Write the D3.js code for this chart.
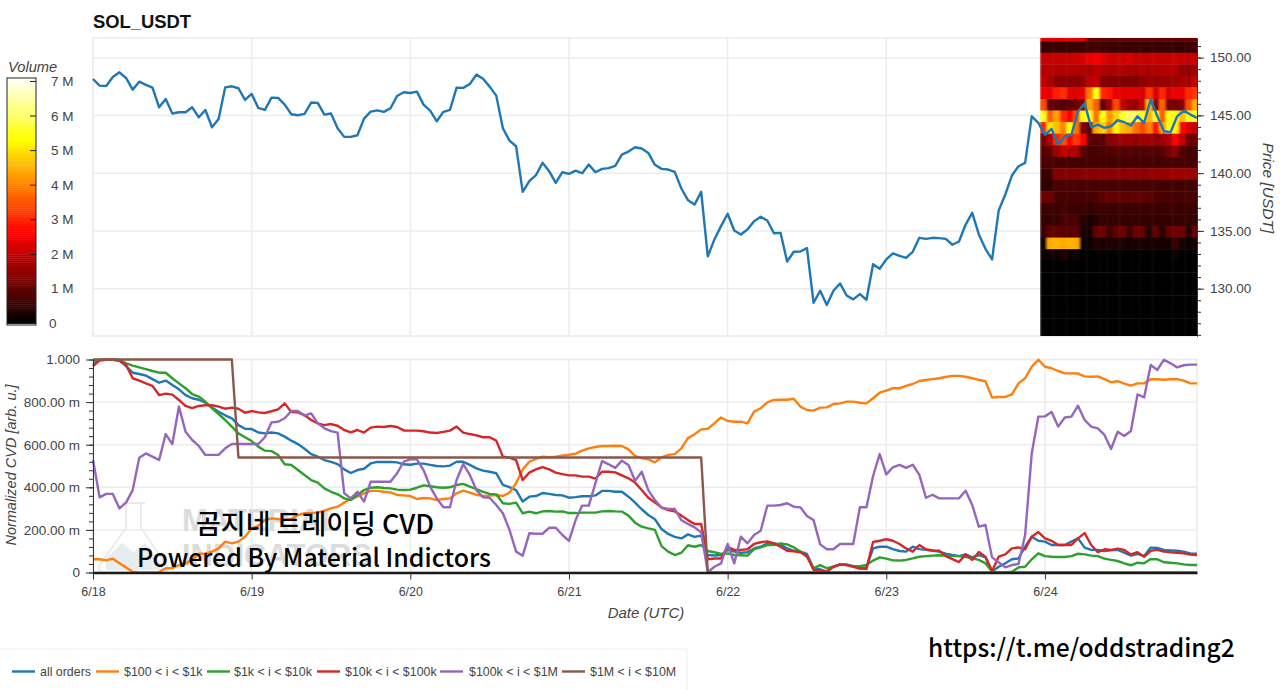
<!DOCTYPE html>
<html><head><meta charset="utf-8">
<script src="https://cdn.jsdelivr.net/npm/d3@7"></script>
<style>
html,body{margin:0;padding:0;background:#fff;overflow:hidden}
svg{display:block}
text{font-family:"Liberation Sans",Arial,sans-serif}
</style></head><body>
<svg id="c" width="1280" height="690"></svg>
<script>
const title="SOL_USDT";
const seriesNames=["all orders","$100 < i < $1k","$1k < i < $10k","$10k < i < $100k","$100k < i < $1M","$1M < i < $10M"];
const seriesColors=["#1f77b4","#ff7f0e","#2ca02c","#d62728","#9467bd","#8c564b"];
const dateTicks=["6/18","6/19","6/20","6/21","6/22","6/23","6/24"];
const priceTicks=[130,135,140,145,150];
const cvdTicks=[0,.2,.4,.6,.8,1];
const volumeTicks=[0,1,2,3,4,5,6,7];

const price=[148.15,147.58,147.55,148.33,148.73,148.24,147.23,147.92,147.64,147.40,145.70,146.42,145.16,145.27,145.27,145.70,144.84,145.47,143.97,144.69,147.43,147.52,147.35,146.34,146.86,145.65,145.47,146.54,146.51,145.93,145.10,145.01,145.13,146.11,146.08,145.07,145.16,143.89,143.14,143.14,143.28,144.72,145.33,145.44,145.30,145.62,146.68,147.00,146.94,147.06,145.93,145.41,144.49,145.30,145.47,147.40,147.38,147.72,148.53,148.18,147.49,146.71,143.89,142.82,142.33,138.38,139.30,139.82,140.89,
140.17,139.16,140.08,139.94,140.22,139.99,140.74,140.08,140.37,140.43,140.63,141.61,141.87,142.24,142.13,141.75,140.72,140.37,140.31,140.11,138.67,137.66,137.28,138.38,132.79,134.26,135.41,136.48,135.03,134.69,135.12,135.84,136.22,135.90,134.80,134.83,132.35,133.19,133.22,133.51,128.78,129.82,128.58,129.82,130.45,129.41,129.07,129.53,129.04,132.12,131.72,132.53,133.05,132.84,132.67,133.19,134.40,134.31,134.40,134.37,134.31,133.80,134.08,135.55,136.56,134.69,133.45,132.53,136.76,138.15,139.79,140.60,140.89,
144.92,144.35,143.31,143.83,142.47,143.19,143.31,145.36,146.02,143.97,144.20,143.92,144.06,144.58,144.41,144.12,144.92,144.35,146.37,144.92,143.63,143.54,144.92,145.41,145.07,144.78];

const cvdAll=[.974,.998,.999,.999,.995,.969,.938,.932,.924,.908,.891,.901,.880,.860,.833,.818,.811,.797,.775,.755,.738,.724,.692,.675,.674,.657,.653,.657,.653,.638,.619,.603,.581,.556,.544,.528,.519,.509,.484,.467,.481,.487,.512,.519,.519,.519,.517,
.508,.506,.511,.511,.505,.500,.498,.502,.520,.520,.505,.489,.478,.473,.466,.411,.401,.387,.333,.356,.359,.373,.369,.364,.362,.351,.354,.358,.358,.362,.383,.383,.379,.379,.356,.328,.297,.270,.250,.204,.181,.167,.160,.179,.167,.173,.082,.080,
.082,.106,.098,.093,.095,.113,.121,.137,.137,.132,.113,.102,.098,.087,.020,.015,.004,.027,.038,.035,.030,.020,.024,.113,.121,.121,.110,.101,.098,.121,.110,.106,.102,.098,.088,.082,.077,.085,.071,.082,.071,.004,.027,.043,.062,.066,.121,.168,.149,.145,.129,.129,.129,.145,.160,.117,.106,.106,.101,.104,.106,.093,.079,.087,.077,.117,.115,.106,.104,.102,.098,.090,.088];
const cvd100=[.062,.062,.057,.065,.043,.024,.004,0,0,0,.002,.020,.020,.035,.043,.059,.087,.090,.098,.113,.145,.137,.145,.168,.207,.220,.246,.254,.251,.246,.251,.270,.278,.278,.282,.290,.301,.309,.328,.345,.356,.372,.383,.383,.379,.376,.364,
.362,.359,.345,.350,.348,.340,.345,.348,.372,.384,.375,.365,.359,.361,.364,.359,.375,.419,.484,.520,.533,.544,.541,.544,.549,.553,.558,.572,.583,.589,.594,.594,.595,.594,.578,.547,.536,.531,.517,.541,.552,.556,.583,.631,.649,.672,.675,.700,
.728,.711,.708,.708,.700,.755,.771,.799,.810,.811,.811,.816,.779,.763,.760,.774,.775,.791,.794,.802,.802,.797,.794,.818,.844,.854,.865,.865,.876,.885,.899,.904,.908,.912,.918,.923,.923,.919,.912,.904,.898,.821,.824,.824,.836,.888,.912,.966,.999,.966,.959,.946,.935,.935,.934,.921,.919,.921,.908,.894,.898,.887,.877,.888,.888,.907,.907,.905,.907,.908,.901,.888,.888];
const cvd1k=[.990,.998,.999,.999,.998,.982,.971,.963,.955,.946,.938,.938,.912,.888,.865,.838,.826,.802,.771,.744,.716,.685,.653,.635,.617,.591,.572,.570,.552,.508,.505,.481,.458,.434,.422,.395,.379,.367,.348,.340,.364,.387,.398,.400,.397,.395,.389,
.387,.389,.398,.409,.405,.400,.398,.400,.411,.416,.403,.391,.379,.369,.367,.325,.322,.328,.278,.286,.278,.287,.289,.286,.287,.279,.279,.281,.281,.281,.287,.289,.287,.286,.267,.234,.215,.207,.200,.124,.098,.082,.093,.128,.121,.129,.101,.095,
.087,.090,.082,.081,.079,.110,.118,.129,.129,.137,.132,.118,.098,.074,.020,.035,.020,.027,.038,.038,.030,.030,.035,.056,.071,.065,.057,.056,.059,.066,.074,.077,.079,.081,.079,.077,.077,.074,.066,.059,.043,.004,0,0,.004,.024,.027,.062,.090,.077,.074,.073,.073,.077,.088,.085,.079,.077,.065,.059,.054,.043,.034,.046,.043,.063,.062,.048,.046,.043,.038,.035,.035];
const cvd10k=[.969,.996,.999,.999,.995,.974,.912,.901,.888,.876,.833,.840,.835,.810,.782,.772,.782,.785,.785,.779,.769,.774,.769,.750,.758,.752,.749,.757,.766,.794,.753,.752,.739,.716,.700,.692,.697,.689,.669,.658,.669,.657,.680,.685,.683,.688,.683,
.667,.666,.666,.663,.657,.655,.660,.666,.685,.657,.650,.644,.635,.635,.619,.544,.539,.528,.434,.469,.484,.495,.484,.469,.462,.456,.456,.450,.450,.441,.473,.473,.470,.456,.442,.422,.387,.351,.328,.306,.293,.287,.267,.246,.228,.228,.062,.066,.066,
.121,.106,.106,.109,.134,.142,.146,.137,.121,.102,.099,.095,.077,.012,.009,.004,.027,.037,.035,.027,.018,.017,.143,.149,.156,.149,.134,.113,.098,.129,.109,.104,.102,.077,.063,.049,.085,.059,.096,.074,.007,.074,.085,.113,.118,.109,.168,.190,.160,.149,.129,.129,.129,.160,.185,.129,.095,.109,.106,.112,.106,.085,.095,.074,.102,.106,.098,.095,.093,.090,.084,.082];
const cvd100k=[.528,.353,.369,.369,.301,.328,.387,.539,.559,.544,.528,.650,.603,.779,.661,.622,.594,.552,.552,.552,.583,.603,.603,.603,.603,.603,.635,.705,.708,.724,.758,.758,.736,.747,.700,.677,.664,.657,.372,.348,.379,.333,.426,.426,.426,.426,.466,
.520,.531,.531,.481,.403,.348,.306,.306,.434,.509,.458,.387,.353,.351,.317,.278,.200,.098,.079,.184,.182,.182,.210,.210,.176,.148,.246,.314,.314,.419,.523,.508,.491,.525,.505,.430,.473,.387,.340,.304,.298,.298,.246,.228,.212,.189,.001,.027,
.043,.134,.043,.168,.137,.176,.196,.314,.314,.317,.325,.309,.306,.265,.246,.132,.109,.109,.134,.134,.134,.306,.306,.453,.556,.461,.494,.505,.491,.506,.458,.351,.365,.348,.348,.348,.348,.384,.317,.215,.223,.071,.048,.024,.035,.040,.176,.559,.732,.733,.753,.685,.728,.732,.783,.716,.685,.677,.646,.580,.661,.641,.664,.836,.822,.974,.951,.999,.982,.963,.973,.976,.976];
const cvd1MHours=[0,21,22,92,93,167];
const cvd1MValues=[1,1,.54,.54,0,0];

const volumeRowEdges=[151.42,150.42,149.42,148.42,147.42,146.42,145.42,144.42,143.42,142.42,141.42,140.42,139.42,138.42,137.42,136.42,135.42,134.42,133.42,132.42,131.42,130.42,129.42,128.42,127.42,126.42,125.42];
const volumeRows=[
[2.3,2.3,2.3,2.3,2.3,2.3,2.3,1.0,1.0,1.0,1.0,1.0,1.0,1.0,1.0,1.0,1.0,1.0,1.0,1.0,1.0,1.0,1.0,1.1],
[.6,.6,.6,.6,.6,.6,.6,.65,.7,.65,.6,.6,.6,.6,.6,.6,.6,.6,.55,.6,.55,.55,.6,.65],
[2.0,2.0,2.0,2.0,2.0,2.1,2.2,2.4,2.5,2.3,2.1,2.1,2.1,2.2,2.0,2.0,2.0,2.1,2.0,2.0,2.1,2.0,2.0,2.0],
[1.8,1.9,1.8,1.8,1.8,1.8,1.8,1.7,1.9,1.8,1.7,1.8,1.8,1.7,1.7,1.8,1.7,1.8,1.8,1.8,1.8,1.5,1.5,1.6],
[2.0,1.7,1.4,1.4,1.4,1.4,1.5,1.9,2.0,1.4,1.3,1.3,1.3,1.3,1.3,1.4,1.6,1.5,1.6,1.6,1.6,1.7,1.7,2.0],
[2.4,2.4,2.9,3.1,2.3,2.3,2.4,3.9,5.4,3.0,2.8,2.4,2.3,2.3,2.3,2.2,3.2,2.2,3.0,2.2,2.4,2.4,3.0,3.2],
[3.4,1.0,1.0,.8,.9,1.1,1.4,4.4,3.6,1.0,1.6,3.4,2.0,1.6,1.6,2.0,4.6,1.4,3.6,1.2,1.2,1.4,3.4,4.4],
[5.6,3.6,4.3,3.0,2.6,3.4,5.4,5.6,3.8,5.4,4.2,4.8,5.6,6.0,6.0,5.6,4.5,5.5,3.6,5.4,5.5,4.6,5.5,5.5],
[3.0,5.0,4.6,4.0,5.4,3.8,1.2,1.0,4.4,4.8,4.0,5.2,4.6,4.4,3.8,3.4,4.0,2.8,4.2,5.4,5.2,2.6,2.2,2.0],
[1.2,1.8,3.0,3.4,2.6,3.2,2.6,1.0,.9,.9,1.4,1.5,1.6,1.6,1.5,1.6,1.6,1.5,1.6,1.8,2.6,2.0,1.1,1.1],
[.9,1.0,1.6,2.0,1.8,1.8,.9,.7,.7,.8,.8,.9,.8,.9,.8,.8,.9,.8,.9,1.2,1.4,.8,.7,.7],
[.8,.8,.7,.7,.7,.7,.7,.7,.7,.7,.7,.7,.7,.7,.7,.7,.7,.7,.7,.7,.7,.7,.7,.7],
[.6,.6,1.3,1.35,1.3,1.35,1.4,1.4,1.4,1.45,1.4,1.45,1.4,1.5,1.45,1.4,1.5,1.5,1.55,1.55,1.6,1.6,1.6,1.6],
[.5,.5,.75,.75,.75,.8,.7,.75,.7,.7,.7,.75,.7,.7,.7,.7,.7,.7,.65,.65,.65,.65,.65,.65],
[1.1,1.1,.75,.7,.7,.7,.7,.7,.75,.95,1.0,1.0,1.0,.95,1.0,.95,.9,.8,.75,.75,.7,.7,.75,.7],
[.6,.6,.6,.7,.6,.6,.6,.5,.6,.6,.6,.6,.6,.6,.6,.6,.6,.6,.6,.6,.6,.55,.6,.6],
[.55,.55,.55,.75,.75,.75,.4,.2,.4,.55,.55,.55,.55,.55,.55,.55,.5,.5,.55,.55,.55,.55,.5,.55],
[.6,1.0,1.0,.9,.9,.9,.3,.2,1.0,1.1,.6,1.0,1.1,.6,1.1,1.0,.3,1.0,.4,1.0,1.1,1.1,.4,1.1],
[.1,4.4,4.5,4.4,4.5,4.4,.15,.15,.35,.2,.35,.3,.3,.25,.3,.3,.2,.25,.2,.2,.6,.25,.1,.25],
[.08,.08,.1,.3,.1,.08,.06,.06,.06,.06,.06,.06,.06,.06,.06,.06,.06,.06,.06,.06,.08,.06,.05,.05],
[.03,.03,.03,.04,.03,.03,.03,.03,.03,.03,.03,.03,.03,.03,.03,.03,.03,.03,.03,.03,.03,.03,.03,.03],
[.02,.02,.02,.02,.02,.02,.02,.02,.02,.02,.02,.02,.02,.02,.02,.02,.02,.02,.02,.02,.02,.02,.02,.02],
[.02,.02,.02,.02,.02,.02,.02,.02,.02,.02,.02,.02,.02,.02,.02,.02,.02,.02,.02,.02,.02,.02,.02,.02],
[.02,.02,.02,.02,.02,.02,.02,.02,.02,.02,.02,.02,.02,.02,.02,.02,.02,.02,.02,.02,.02,.02,.02,.02],
[.02,.02,.02,.02,.02,.02,.02,.02,.02,.02,.02,.02,.02,.02,.02,.02,.02,.02,.02,.02,.02,.02,.02,.02],
[.02,.02,.02,.02,.02,.02,.02,.02,.02,.02,.02,.02,.02,.02,.02,.02,.02,.02,.02,.02,.02,.02,.02,.02],
[.02,.02,.02,.02,.02,.02,.02,.02,.02,.02,.02,.02,.02,.02,.02,.02,.02,.02,.02,.02,.02,.02,.02,.02]
];
const volumeFirstHour=143.25;

const svg=d3.select("#c");
const L=93,R=1197,T1=38,B1=336,T2=359.5,B2=572.5;
const GRID="#ececec",INK="#444";
const x=d3.scaleLinear().domain([0,167]).range([L,R]);
const yP=d3.scaleLinear().domain([125.9,151.7]).range([B1,T1]);
const yC=d3.scaleLinear().domain([0,1]).range([B2,T2]);
const heat=d3.scaleLinear().domain([0,2.6,5.3,7.1]).range(["#000","#f00","#ff0","#fff"]).clamp(true);
const dayHours=dateTicks.map((_,i)=>i*24);

const defs=svg.append("defs");
defs.append("clipPath").attr("id","p1").append("rect").attr("x",1040).attr("y",T1).attr("width",R-1040).attr("height",B1-T1);
defs.append("filter").attr("id","soft").attr("x","-2%").attr("y","-2%").attr("width","104%").attr("height","104%")
  .append("feGaussianBlur").attr("stdDeviation","0.9 0.5");

// frames and grid
function grid(top,bottom,scale,vals){
  const g=svg.append("g").attr("fill","none").attr("stroke",GRID).attr("stroke-width",1.5);
  g.selectAll(".v").data(dayHours).join("line").attr("x1",d=>x(d)).attr("x2",d=>x(d)).attr("y1",top).attr("y2",bottom);
  g.selectAll(".h").data(vals).join("line").attr("x1",L).attr("x2",R).attr("y1",d=>scale(d)).attr("y2",d=>scale(d));
  g.append("rect").attr("x",L).attr("y",top).attr("width",R-L).attr("height",bottom-top);
}
grid(T1,B1,yP,priceTicks);
grid(T2,B2,yC,cvdTicks);

// heat map
const hm=svg.append("g").attr("clip-path","url(#p1)").append("g").attr("filter","url(#soft)");
volumeRows.forEach((row,r)=>{
  hm.selectAll(null).data(row).join("rect")
    .attr("x",(d,c)=>x(volumeFirstHour+c)).attr("width",x(1)-x(0)+.4)
    .attr("y",yP(volumeRowEdges[r]+1)).attr("height",yP(volumeRowEdges[r])-yP(volumeRowEdges[r]+1)+.4)
    .attr("fill",d=>heat(d));
});

// price line
svg.append("path").datum(price).attr("fill","none").attr("stroke",seriesColors[0]).attr("stroke-width",2.4).attr("stroke-linejoin","round")
  .attr("d",d3.line().x((d,i)=>x(i)).y(d=>yP(d)));

// right axis
function styleAxis(g){g.selectAll("path,line").attr("stroke","#333").attr("stroke-width",1);g.selectAll("text").attr("fill",INK).attr("font-size",13.5);}
const minorP=d3.range(126,152);
svg.append("g").attr("transform",`translate(${R},0)`).call(d3.axisRight(yP).tickValues(minorP).tickSize(4).tickFormat("").tickSizeOuter(0)).call(styleAxis);
svg.append("g").attr("transform",`translate(${R},0)`).call(d3.axisRight(yP).tickValues(priceTicks).tickSize(7).tickPadding(6).tickFormat(d3.format(".2f")).tickSizeOuter(0)).call(styleAxis);

// watermark
const wm=svg.append("g");
wm.append("path").attr("d","M122 503H145M126 503V528L99 566Q97 572 104 572H163Q170 572 167 566L141 528V503").attr("fill","none").attr("stroke","#ebebeb").attr("stroke-width",2);
wm.append("path").attr("d","M106 558L122 543L133 552L145 543L163 565Q163 570 158 570H106Z").attr("fill","#e6edf1");
wm.append("text").attr("x",182).attr("y",531).attr("font-size",31).attr("font-weight",700).attr("fill","#dcdcdc").text("MATERIAL");
wm.append("text").attr("x",182).attr("y",566).attr("font-size",31).attr("font-weight",700).attr("fill","#dcdcdc").text("INDICATORS");

// CVD lines
const cvdSeries=[cvdAll,cvd100,cvd1k,cvd10k,cvd100k];
const line=d3.line().x(d=>x(d[0])).y(d=>yC(d[1]));
cvdSeries.forEach((s,k)=>{
  svg.append("path").datum(s.map((v,i)=>[i,v])).attr("fill","none").attr("stroke",seriesColors[k]).attr("stroke-width",2.4).attr("stroke-linejoin","round").attr("d",line);
});
svg.append("path").datum(cvd1MHours.map((h,i)=>[h,cvd1MValues[i]])).attr("fill","none").attr("stroke",seriesColors[5]).attr("stroke-width",2.4).attr("stroke-linejoin","round").attr("d",line);

// left axis
const cvdFmt=v=>v===0?"0":v===1?"1.000":(v*1000).toFixed(2)+" m";
const minorC=d3.range(0,26).map(i=>i*.04);
svg.append("g").attr("transform",`translate(${L},0)`).call(d3.axisLeft(yC).tickValues(minorC).tickSize(4).tickFormat("").tickSizeOuter(0)).call(styleAxis);
svg.append("g").attr("transform",`translate(${L},0)`).call(d3.axisLeft(yC).tickValues(cvdTicks).tickSize(7).tickPadding(6).tickFormat(cvdFmt).tickSizeOuter(0)).call(styleAxis);
// bottom axis
const xb=svg.append("g").attr("transform",`translate(0,${B2})`).call(d3.axisBottom(x).tickValues(dayHours).tickSize(7).tickPadding(8).tickFormat((d,i)=>dateTicks[i]).tickSizeOuter(0)).call(styleAxis);
xb.selectAll("text").attr("font-size",12.5);
xb.select("path").attr("stroke","#1a1a1a").attr("stroke-width",2.6);

// titles
svg.append("text").attr("x",L).attr("y",28).attr("font-size",18.4).attr("font-weight",700).attr("fill","#111").text(title);
const ital=(t,a,b,rot,s)=>svg.append("text").attr("text-anchor","middle").attr("font-size",s).attr("font-style","italic").attr("fill",INK)
  .attr("transform",`translate(${a},${b})`+(rot?` rotate(${rot})`:"")).text(t);
ital("Price [USDT]",1263,188,90,15.5);
ital("Normalized CVD [arb. u.]",16,465,-90,14.5);
ital("Date (UTC)",646,618,0,15);

// colour bar
const cb=d3.scaleLinear().domain([0,7.1]).range([323.5,78]);
const cbSteps=d3.range(0,128).map(i=>i*7.1/128);
svg.append("g").selectAll("rect").data(cbSteps).join("rect")
  .attr("x",7).attr("width",29).attr("y",d=>cb(d+7.1/128)).attr("height",d=>cb(d)-cb(d+7.1/128)+.4).attr("fill",d=>heat(d));
svg.append("rect").attr("x",7).attr("y",78).attr("width",29).attr("height",247).attr("fill","none").attr("stroke","#222");
svg.append("g").selectAll("line").data(volumeTicks).join("line").attr("x1",30).attr("x2",36).attr("y1",d=>cb(d)).attr("y2",d=>cb(d)).attr("stroke","#222");
svg.append("g").selectAll("text").data(volumeTicks).join("text").attr("x",d=>d===0?49:51).attr("y",d=>cb(d)+4.5).attr("font-size",13.5).attr("fill",INK).text(d=>d===0?"0":d+" M");
svg.append("text").attr("x",8).attr("y",72).attr("font-size",14.7).attr("font-style","italic").attr("fill",INK).text("Volume");

// legend
const legend=svg.append("g");
legend.append("rect").attr("x",-2).attr("y",649).attr("width",689).attr("height",43).attr("fill","#fff").attr("stroke","#efefef");
const legendLine=[12,96,207,317,440,562],legendText=[40,124,234,345,469,590];
seriesNames.forEach((n,i)=>{
  legend.append("line").attr("x1",legendLine[i]).attr("x2",legendLine[i]+23).attr("y1",671.5).attr("y2",671.5).attr("stroke",seriesColors[i]).attr("stroke-width",2.4);
  legend.append("text").attr("x",legendText[i]).attr("y",676).attr("font-size",12.4).attr("fill",INK).text(n);
});

// overlay captions
const cap=(t,a,b,s)=>svg.append("text").attr("x",a).attr("y",b).attr("font-size",s).attr("font-weight",500).attr("fill","#000").style("font-family",'"Noto Sans CJK KR",sans-serif').text(t);
cap("곰지네 트레이딩 CVD",196,534,27);
cap("Powered By Material Indictors",137,567,24.9);
cap("https://t.me/oddstrading2",928,657,24.5);
</script>
</body></html>
